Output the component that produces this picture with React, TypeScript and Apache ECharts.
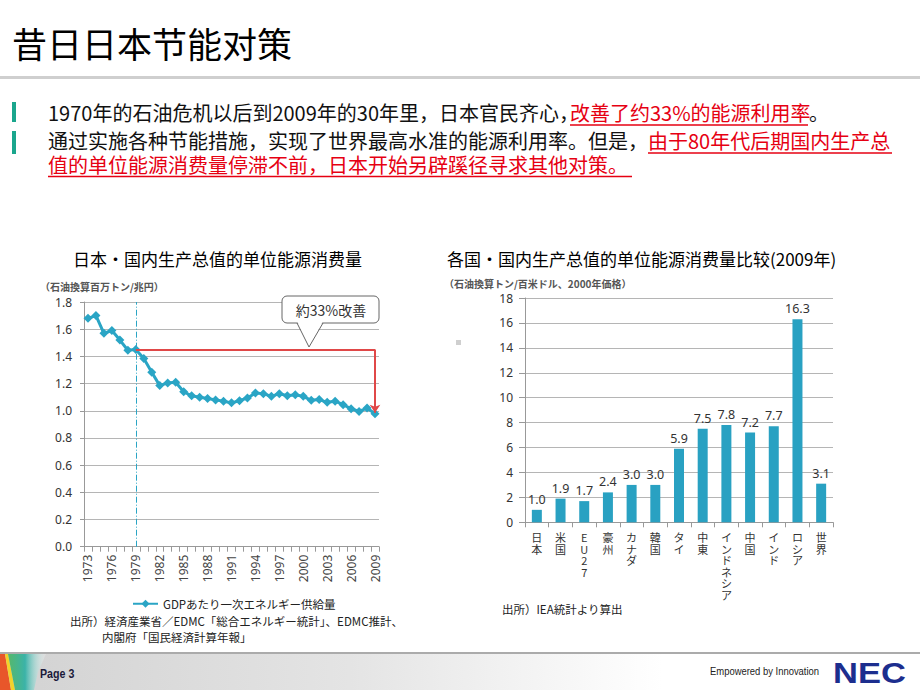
import React, { useEffect, useRef } from "react";
import * as echarts from "echarts";

const years = ["1973","1974","1975","1976","1977","1978","1979","1980","1981","1982","1983","1984","1985","1986","1987","1988","1989","1990","1991","1992","1993","1994","1995","1996","1997","1998","1999","2000","2001","2002","2003","2004","2005","2006","2007","2008","2009"];
const energyPerGdp = [1.68,1.70,1.57,1.59,1.52,1.445,1.45,1.384,1.283,1.185,1.205,1.21,1.14,1.11,1.10,1.09,1.08,1.07,1.058,1.074,1.094,1.13,1.126,1.106,1.126,1.11,1.118,1.106,1.077,1.082,1.062,1.07,1.045,1.015,0.995,1.02,0.978];
const lineSeriesName = "GDPあたり一次エネルギー供給量";

const countries = ["日本","米国","EU27","豪州","カナダ","韓国","タイ","中東","インドネシア","中国","インド","ロシア","世界"];
const countryValues = [1.0,1.9,1.7,2.4,3.0,3.0,5.9,7.5,7.8,7.2,7.7,16.3,3.1];

const SC = "'Noto Sans CJK SC', sans-serif";
const JP = "'Noto Sans CJK JP', sans-serif";
const LAT = "'Liberation Sans', Arial, sans-serif";
const TEAL = "#2aa5c5";
const BAR = "#29a1c2";
const RED = "#e60012";

function txt(x: number, y: number, text: string, o: any = {}, el: any = {}) {
  const fs = o.fontSize || 12;
  return {
    type: "text",
    x,
    y,
    silent: true,
    ...el,
    style: {
      text,
      fill: o.fill || "#000",
      fontSize: fs,
      lineHeight: o.lineHeight || fs,
      fontFamily: o.fontFamily || SC,
      fontWeight: o.fontWeight || "normal",
      align: o.align || "left",
      textAlign: o.align || "left",
      verticalAlign: "middle",
      textVerticalAlign: "middle",
    },
  };
}

export default function App() {
  const ref = useRef<HTMLDivElement>(null);
  useEffect(() => {
    document.body.style.margin = "0";
    if (!ref.current) return;
    const chart = echarts.init(ref.current, null, { renderer: "svg" });

    const graphics: any[] = [
      // header
      txt(12, 42, "昔日日本节能对策", { fontSize: 35 }),
      { type: "rect", silent: true, shape: { x: 0, y: 76, width: 920, height: 3 }, style: { fill: "#cfcfcf" } },
      // bullets
      { type: "rect", silent: true, shape: { x: 12, y: 102, width: 4, height: 20 }, style: { fill: "#1aa68d" } },
      { type: "rect", silent: true, shape: { x: 12, y: 131, width: 4, height: 23 }, style: { fill: "#1aa68d" } },
      txt(48, 112, "1970年的石油危机以后到2009年的30年里，日本官民齐心，", { fontSize: 20, fill: "#111" }),
      txt(570, 112, "改善了约33%的能源利用率", { fontSize: 20, fill: RED }),
      txt(809, 112, "。", { fontSize: 20, fill: "#111" }),
      { type: "line", silent: true, shape: { x1: 570, y1: 125, x2: 808, y2: 125 }, style: { stroke: RED, lineWidth: 1.3 } },
      txt(48, 140, "通过实施各种节能措施，实现了世界最高水准的能源利用率。但是，", { fontSize: 20, fill: "#111" }),
      txt(648, 140, "由于80年代后期国内生产总", { fontSize: 20, fill: RED }),
      { type: "line", silent: true, shape: { x1: 648, y1: 153, x2: 892, y2: 153 }, style: { stroke: RED, lineWidth: 1.3 } },
      txt(48, 164, "值的单位能源消费量停滞不前，日本开始另辟蹊径寻求其他对策。", { fontSize: 20, fill: RED }),
      { type: "line", silent: true, shape: { x1: 48, y1: 176.5, x2: 632, y2: 176.5 }, style: { stroke: RED, lineWidth: 1.3 } },
      // chart titles
      txt(73, 258, "日本·国内生产总值的单位能源消费量", { fontSize: 17 }),
      txt(447, 258, "各国·国内生产总值的单位能源消费量比较(2009年)", { fontSize: 17 }),
      txt(40, 286, "（石油換算百万トン/兆円）", { fontSize: 10, fontFamily: JP, fontWeight: "bold", fill: "#555" }),
      txt(444, 283, "（石油換算トン/百米ドル、2000年価格）", { fontSize: 10, fontFamily: JP, fontWeight: "bold", fill: "#555" }),
      // callout
      { type: "rect", silent: true, z: 10, shape: { x: 282, y: 296, width: 97, height: 27, r: 5 }, style: { fill: "#fff", stroke: "#666", lineWidth: 1 } },
      { type: "polygon", silent: true, z: 11, shape: { points: [[297.5, 322], [309, 347], [322.5, 322]] }, style: { fill: "#fff" } },
      { type: "polyline", silent: true, z: 12, shape: { points: [[297, 323], [309, 347], [323, 323]] }, style: { stroke: "#666", lineWidth: 1, fill: null } },
      { ...txt(331, 310, "約33%改善", { fontSize: 14, fontFamily: JP, fill: "#333", align: "center" }), z: 13 },
      // sources
      txt(70, 621, "出所）経済産業省／EDMC「総合エネルギー統計」、EDMC推計、", { fontSize: 11.5, fontFamily: JP, fill: "#222" }),
      txt(102, 637, "内閣府「国民経済計算年報」", { fontSize: 11.5, fontFamily: JP, fill: "#222" }),
      txt(502, 609, "出所）IEA統計より算出", { fontSize: 11.5, fontFamily: JP, fill: "#222" }),
      { type: "rect", silent: true, shape: { x: 456, y: 340, width: 5, height: 5 }, style: { fill: "#cfcfcf" } },
      // footer
      {
        type: "rect", silent: true, shape: { x: 0, y: 654, width: 920, height: 36 },
        style: {
          fill: new echarts.graphic.LinearGradient(0, 0, 1, 0, [
            { offset: 0, color: "#d2d2d2" },
            { offset: 0.38, color: "#e4e4e4" },
            { offset: 0.72, color: "#ffffff" },
          ]),
        },
      },
      { type: "line", silent: true, shape: { x1: 0, y1: 653, x2: 920, y2: 653 }, style: { stroke: "#8f8f8f", lineWidth: 1.5 } },
      { type: "polygon", silent: true, shape: { points: [[0, 654], [5, 654], [11, 690], [0, 690]] }, style: { fill: "#e8562a" } },
      { type: "polygon", silent: true, shape: { points: [[5, 654], [8, 654], [15, 690], [11, 690]] }, style: { fill: "#f2d22a" } },
      {
        type: "polygon", silent: true, shape: { points: [[8, 654], [46, 654], [38, 672], [34, 690], [15, 690]] },
        style: {
          fill: new echarts.graphic.LinearGradient(0, 0, 1, 0, [
            { offset: 0, color: "#56b86a" },
            { offset: 0.45, color: "#3bb3a8" },
            { offset: 1, color: "rgba(255,255,255,0.2)" },
          ]),
        },
      },
      txt(40, 674, "Page 3", { fontSize: 13, fontFamily: LAT, fontWeight: "bold", fill: "#1b1b3a" }, { scaleX: 0.82 }),
      txt(710, 671, "Empowered by Innovation", { fontSize: 10.5, fontFamily: LAT, fill: "#222" }, { scaleX: 0.9 }),
      txt(833, 673, "NEC", { fontSize: 30, fontFamily: LAT, fontWeight: "bold", fill: "#1c2e8e" }, { scaleX: 1.15 }),
    ];

    const option: any = {
      animation: false,
      backgroundColor: "#ffffff",
      grid: [
        { left: 84, top: 302, width: 295, height: 244.7 },
        { left: 525, top: 298, width: 308, height: 224.3 },
      ],
      legend: {
        data: [lineSeriesName],
        left: 132,
        top: 598,
        padding: 0,
        itemWidth: 25,
        itemHeight: 10,
        textStyle: { fontSize: 11.5, color: "#222", fontFamily: JP },
      },
      xAxis: [
        {
          type: "category",
          gridIndex: 0,
          data: years,
          boundaryGap: true,
          axisLine: { lineStyle: { color: "#999" } },
          axisTick: { show: true, interval: 0, length: 5, lineStyle: { color: "#999" } },
          axisLabel: { interval: 2, rotate: 90, fontSize: 12, color: "#444", margin: 8, fontFamily: "'Noto Sans', sans-serif" },
        },
        {
          type: "category",
          gridIndex: 1,
          data: countries,
          axisLine: { lineStyle: { color: "#999" } },
          axisTick: { show: true, length: 5, lineStyle: { color: "#999" } },
          axisLabel: {
            interval: 0,
            fontSize: 11,
            lineHeight: 11.5,
            color: "#333",
            margin: 9,
            fontFamily: JP,
            verticalAlign: "top",
            formatter: (v: string) => v.split("").join("\n"),
          },
        },
      ],
      yAxis: [
        {
          type: "value",
          gridIndex: 0,
          min: 0,
          max: 1.8,
          interval: 0.2,
          axisLine: { show: true, lineStyle: { color: "#999" } },
          axisTick: { show: true, length: 4, lineStyle: { color: "#999" } },
          splitLine: { lineStyle: { color: "#b5b5b5" } },
          axisLabel: { fontSize: 12, color: "#333", margin: 12, fontFamily: "'Noto Sans', sans-serif", formatter: (v: number) => v.toFixed(1) },
        },
        {
          type: "value",
          gridIndex: 1,
          min: 0,
          max: 18,
          interval: 2,
          axisLine: { show: true, lineStyle: { color: "#999" } },
          axisTick: { show: true, length: 6, lineStyle: { color: "#999" } },
          splitLine: { lineStyle: { color: "#b5b5b5" } },
          axisLabel: { fontSize: 12, color: "#333", margin: 12, fontFamily: "'Noto Sans', sans-serif" },
        },
      ],
      series: [
        {
          name: lineSeriesName,
          type: "line",
          xAxisIndex: 0,
          yAxisIndex: 0,
          data: energyPerGdp,
          symbol: "diamond",
          symbolSize: 9,
          showAllSymbol: true,
          color: TEAL,
          lineStyle: { color: TEAL, width: 3 },
          itemStyle: { color: TEAL },
          markLine: {
            silent: true,
            symbol: ["none", "none"],
            label: { show: false },
            data: [
              { xAxis: 6, lineStyle: { color: TEAL, type: [6, 2, 1, 2], width: 1 } },
              [
                { coord: [6, 1.45], symbol: "none", lineStyle: { color: "#e04848", width: 2, type: "solid" } },
                { coord: [36.2, 1.45], symbol: "none" },
              ],
              [
                { coord: [36.2, 1.45], symbol: "none", lineStyle: { color: "#e04848", width: 2, type: "solid" } },
                { coord: [36.2, 0.985], symbol: "arrow", symbolSize: 8 },
              ],
            ],
          },
        },
        {
          name: "各国",
          type: "bar",
          xAxisIndex: 1,
          yAxisIndex: 1,
          data: countryValues,
          barWidth: 10,
          itemStyle: { color: BAR },
          label: {
            show: true,
            position: "top",
            distance: 4,
            fontSize: 12.5,
            color: "#333",
            fontFamily: "'Noto Sans', sans-serif",
            formatter: (p: any) => Number(p.value).toFixed(1),
          },
        },
      ],
      graphic: graphics,
    };
    chart.setOption(option);
    return () => chart.dispose();
  }, []);

  return (
    <div
      ref={ref}
      style={{ position: "fixed", left: 0, top: 0, width: 920, height: 690, background: "#fff" }}
    />
  );
}
